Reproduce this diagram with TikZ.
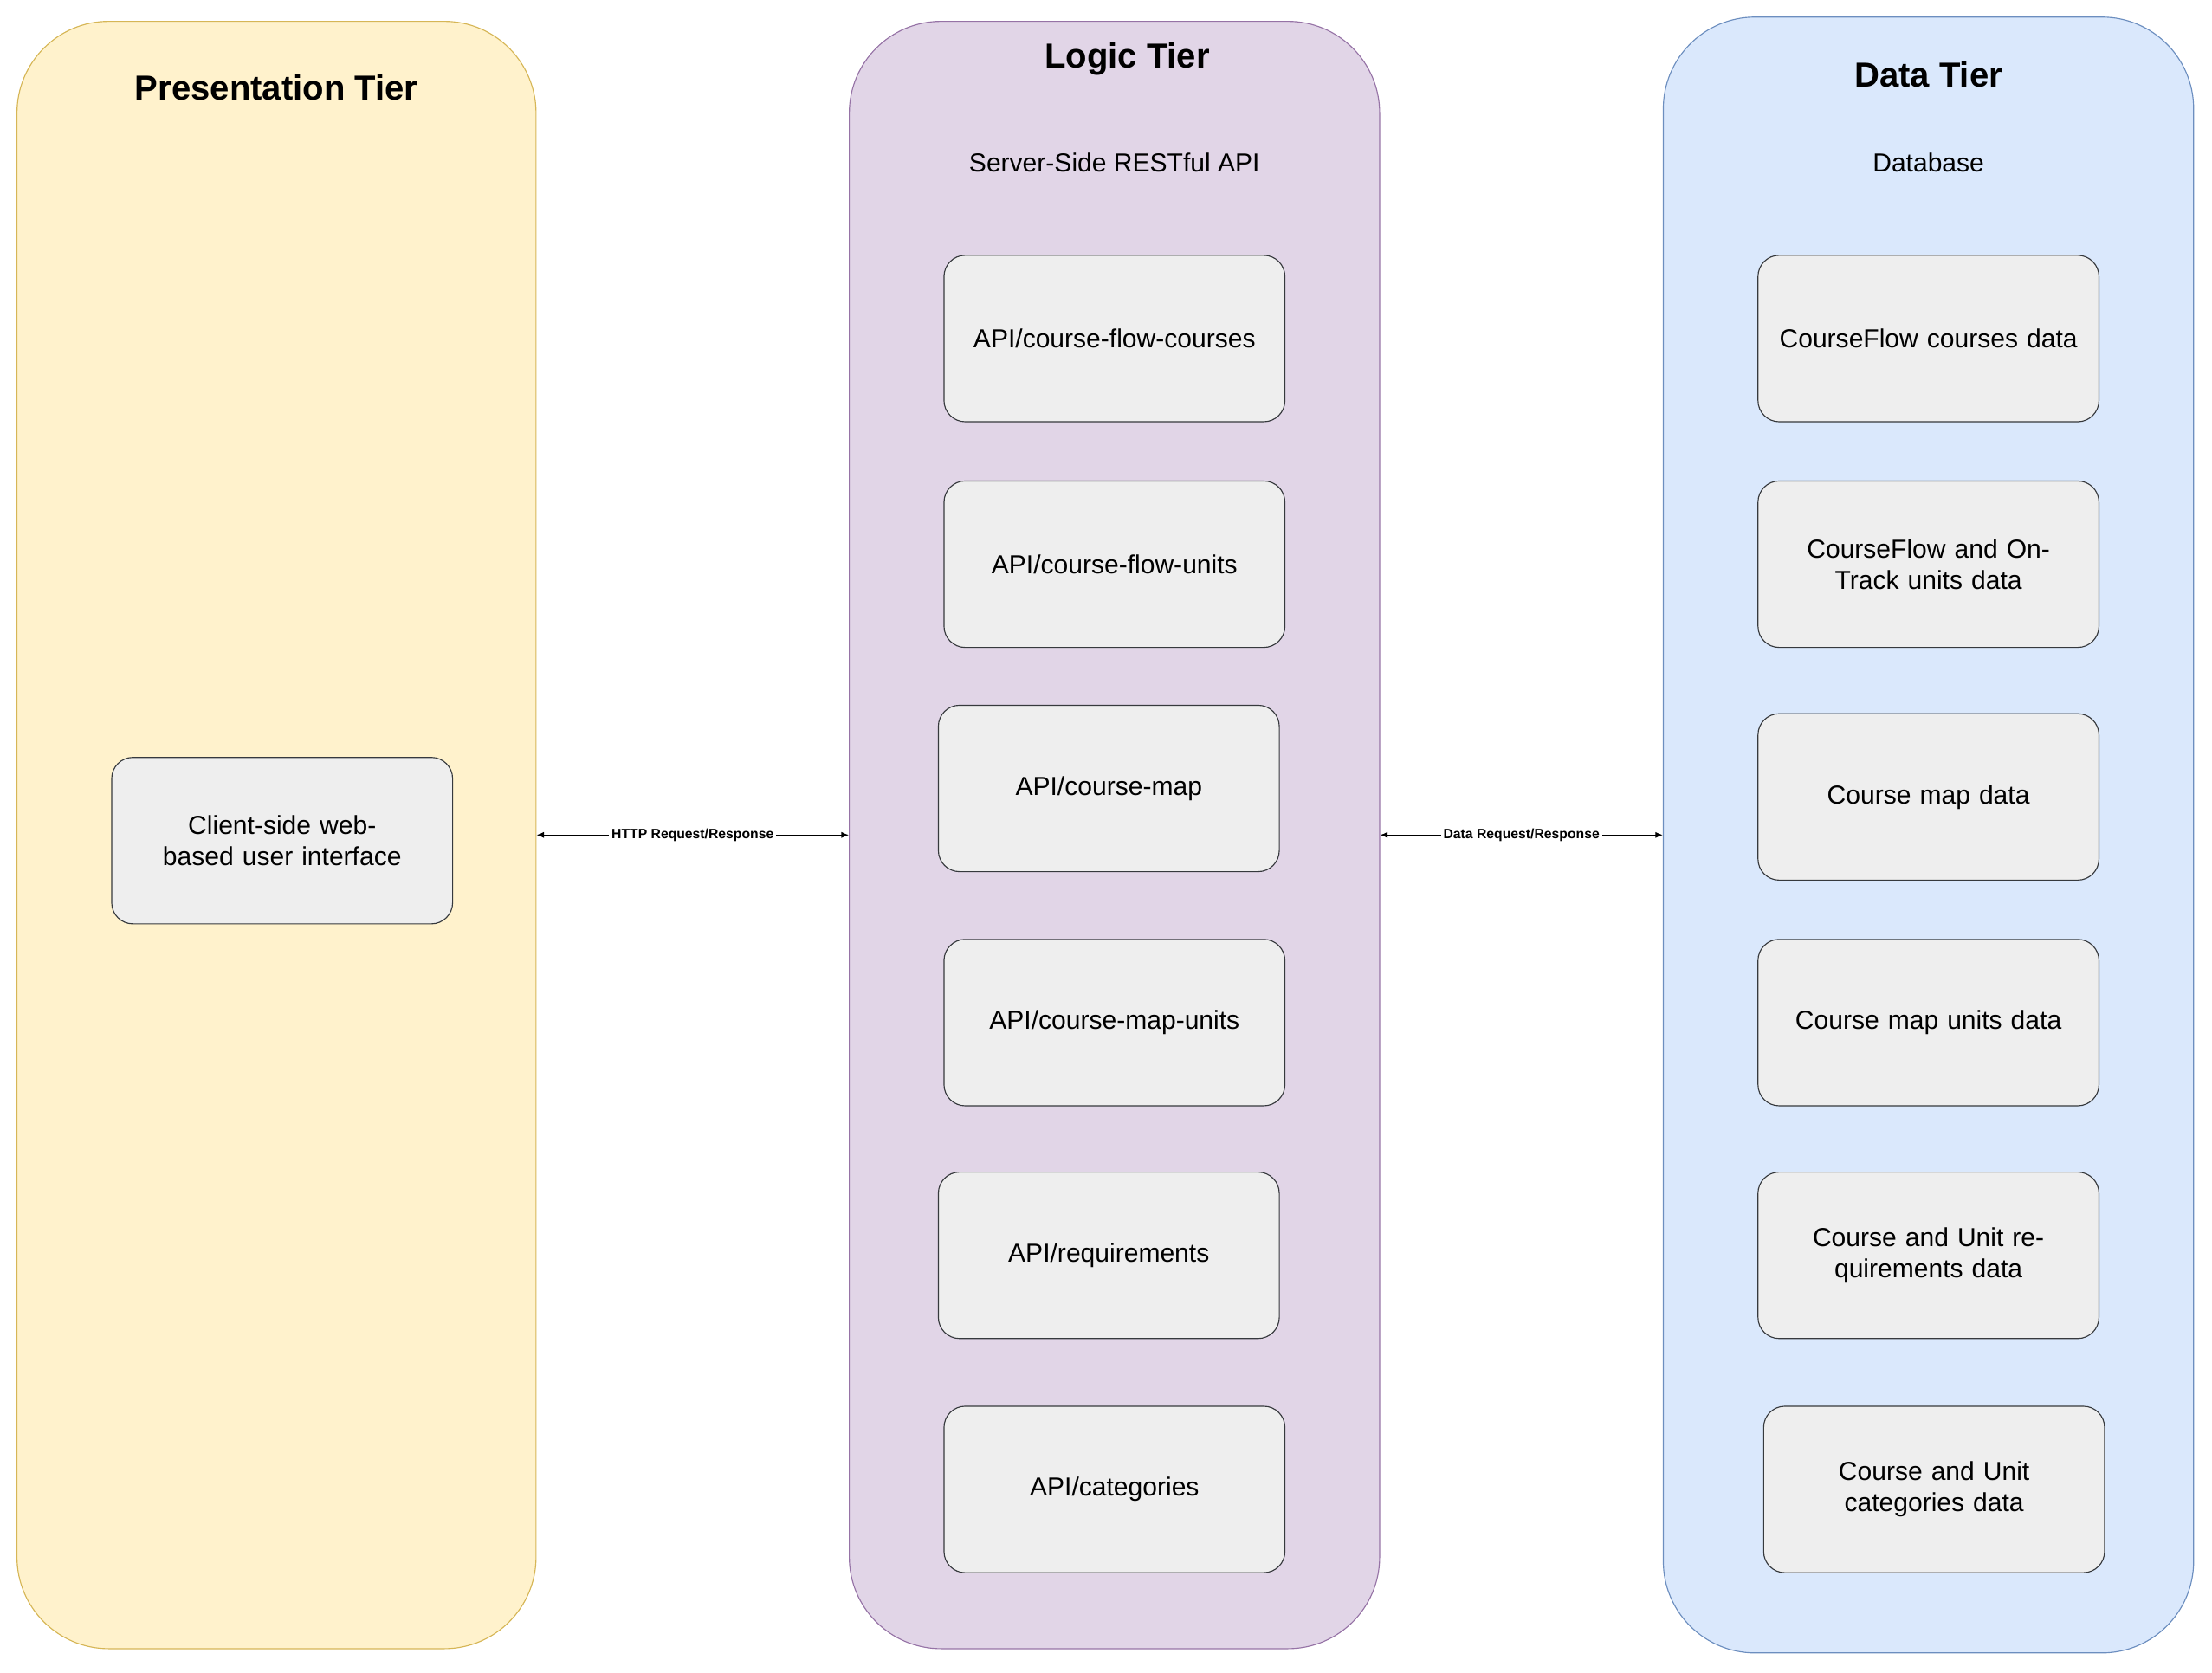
\documentclass[tikz,border=0pt]{standalone}
\usepackage{fontspec}
\setmainfont{Liberation Sans}
\usetikzlibrary{arrows.meta}
\definecolor{presfill}{HTML}{FFF2CC}\definecolor{presdraw}{HTML}{D6B656}
\definecolor{logicfill}{HTML}{E1D5E7}\definecolor{logicdraw}{HTML}{9673A6}
\definecolor{datafill}{HTML}{DAE8FC}\definecolor{datadraw}{HTML}{6C8EBF}
\definecolor{boxfill}{HTML}{EEEEEE}\definecolor{boxdraw}{HTML}{36393D}
\tikzset{
  lane/.style={draw=#1draw, fill=#1fill, rounded corners=1.3cm, minimum width=7.4cm, inner sep=0pt},
  item/.style={draw=boxdraw, fill=boxfill, rounded corners=0.3cm, minimum width=4.72cm, minimum height=2.36cm,
    align=center, text width=4.6cm, font=\fontsize{10.5}{12.5}\selectfont},
  title/.style={font=\fontsize{14}{16}\selectfont\bfseries},
  sub/.style={font=\fontsize{10.5}{12.5}\selectfont},
  link/.style={{Latex[length=3pt,width=2.5pt]}-{Latex[length=3pt,width=2.5pt]}, line width=0.4pt},
  linklabel/.style={fill=white, inner sep=1pt, font=\fontsize{5.5}{6}\selectfont\bfseries}
}
\begin{document}
\begin{tikzpicture}[x=0.02cm, y=-0.02cm]
  \useasboundingbox (0,0) rectangle (1568,1186);
  % tiers
  \node[lane=pres, minimum width=7.36cm, minimum height=23.08cm] (pres) at (196,592) {};
  \node[lane=logic, minimum width=7.52cm, minimum height=23.08cm] (logic) at (790,592) {};
  \node[lane=data, minimum width=7.52cm, minimum height=23.2cm] (data) at (1367,592) {};
  \node[title] (prestitle) at (196,62) {Presentation Tier};
  \node[title] (logictitle) at (799,42) {Logic Tier};
  \node[title] (datatitle) at (1367,53) {Data Tier};
  \node[sub] (logicsub) at (790,115) {Server-Side RESTful API};
  \node[sub] (datasub) at (1367,115) {Database};
  % presentation
  \node[item] (client) at (200,596) {Client-side web-based user interface};
  % logic
  \node[item] (api1) at (790,240) {API/course-flow-courses};
  \node[item] (api2) at (790,400) {API/course-flow-units};
  \node[item] (api3) at (786,559) {API/course-map};
  \node[item] (api4) at (790,725) {API/course-map-units};
  \node[item] (api5) at (786,890) {API/requirements};
  \node[item] (api6) at (790,1056) {API/categories};
  % data
  \node[item] (db1) at (1367,240) {CourseFlow courses data};
  \node[item] (db2) at (1367,400) {CourseFlow and OnTrack units data};
  \node[item] (db3) at (1367,565) {Course map data};
  \node[item] (db4) at (1367,725) {Course map units data};
  \node[item] (db5) at (1367,890) {Course and Unit requirements data};
  \node[item] (db6) at (1371,1056) {Course and Unit categories data};
  % connectors
  \draw[link] (pres.east) -- node[linklabel] {HTTP Request/Response} (logic.west);
  \draw[link] (logic.east) -- node[linklabel] {Data Request/Response} (data.west);
\end{tikzpicture}
\end{document}
